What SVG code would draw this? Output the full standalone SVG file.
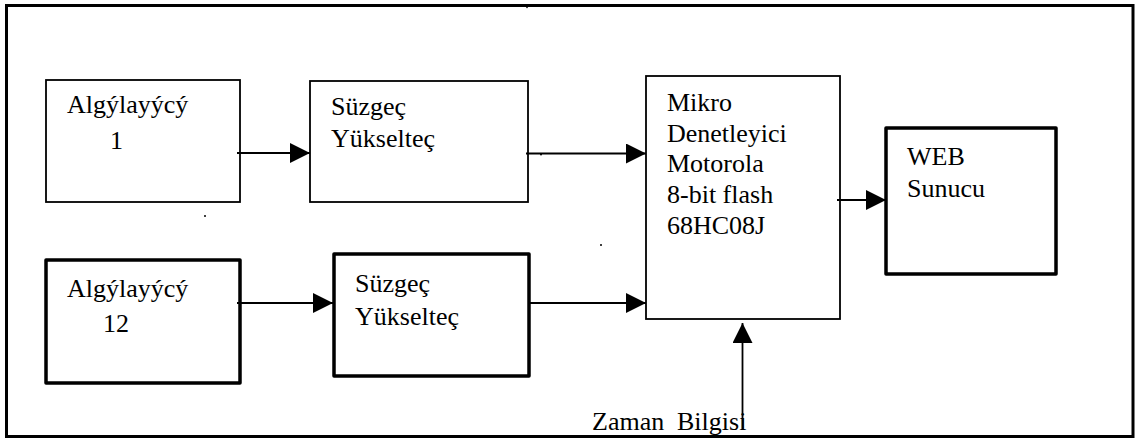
<svg xmlns="http://www.w3.org/2000/svg" width="1136" height="441" viewBox="0 0 1136 441">
<defs>
<marker id="ah" markerWidth="20" markerHeight="20" viewBox="0 0 20 20" refX="20" refY="10" orient="auto" markerUnits="userSpaceOnUse">
<path d="M0,0 L20,10 L0,20 Z" fill="#000"/>
</marker>
</defs>
<rect x="0" y="0" width="1136" height="441" fill="#fff"/>
<rect x="6.5" y="5.5" width="1126.5" height="431" fill="none" stroke="#000" stroke-width="3"/>

<g id="sensor1">
<rect fill="#fff" stroke="#000" stroke-width="1.8" x="46" y="80" width="194" height="122"/>
<text x="67" y="113" font-family="Liberation Serif" font-size="26">Algýlayýcý</text>
<text x="110" y="149" font-family="Liberation Serif" font-size="26">1</text>
</g>
<g id="sensor12">
<rect fill="#fff" stroke="#000" stroke-width="3.5" stroke-linejoin="round" x="46" y="260" width="194" height="123"/>
<text x="67" y="297" font-family="Liberation Serif" font-size="26">Algýlayýcý</text>
<text x="103" y="332" font-family="Liberation Serif" font-size="26">12</text>
</g>
<g id="filter1">
<rect fill="#fff" stroke="#000" stroke-width="1.8" x="310" y="81" width="218" height="121"/>
<text x="331" y="115" font-family="Liberation Serif" font-size="26">Süzgeç</text>
<text x="331" y="147" font-family="Liberation Serif" font-size="26">Yükselteç</text>
</g>
<g id="filter2">
<rect fill="#fff" stroke="#000" stroke-width="3.5" stroke-linejoin="round" x="334" y="254" width="195" height="122"/>
<text x="355" y="292" font-family="Liberation Serif" font-size="26">Süzgeç</text>
<text x="355" y="325" font-family="Liberation Serif" font-size="26">Yükselteç</text>
</g>
<g id="mcu">
<rect fill="#fff" stroke="#000" stroke-width="1.8" x="646" y="76" width="194" height="243"/>
<text x="667" y="111" font-family="Liberation Serif" font-size="26">Mikro</text>
<text x="667" y="142" font-family="Liberation Serif" font-size="26">Denetleyici</text>
<text x="667" y="172" font-family="Liberation Serif" font-size="26">Motorola</text>
<text x="667" y="203" font-family="Liberation Serif" font-size="26">8-bit flash</text>
<text x="667" y="234" font-family="Liberation Serif" font-size="26">68HC08J</text>
</g>
<g id="web">
<rect fill="#fff" stroke="#000" stroke-width="3.5" stroke-linejoin="round" x="886" y="128" width="170" height="146"/>
<text x="907" y="165" font-family="Liberation Serif" font-size="26">WEB</text>
<text x="907" y="197" font-family="Liberation Serif" font-size="26">Sunucu</text>
</g>
<g id="time">
<text x="592" y="430" font-family="Liberation Serif" font-size="26">Zaman</text>
<text x="677" y="430" font-family="Liberation Serif" font-size="26">Bilgisi</text>
</g>

<g id="connectors" stroke="#000" stroke-width="1.8" fill="none">
<line x1="237" y1="153" x2="310" y2="153" marker-end="url(#ah)"/>
<line x1="237" y1="303" x2="333" y2="303" marker-end="url(#ah)"/>
<line x1="526" y1="153.5" x2="646" y2="153.5" marker-end="url(#ah)"/>
<line x1="528" y1="303" x2="646" y2="303" marker-end="url(#ah)"/>
<line x1="837" y1="200" x2="886" y2="200" marker-end="url(#ah)"/>
<line x1="742.5" y1="430" x2="742.5" y2="323" marker-end="url(#ah)"/>
</g>

<g id="dots" fill="#000">
<circle cx="205" cy="216" r="1"/>
<circle cx="601" cy="245" r="1"/>
<circle cx="541" cy="154.5" r="1"/>
<circle cx="527" cy="7.5" r="0.8"/>
</g>
</svg>
